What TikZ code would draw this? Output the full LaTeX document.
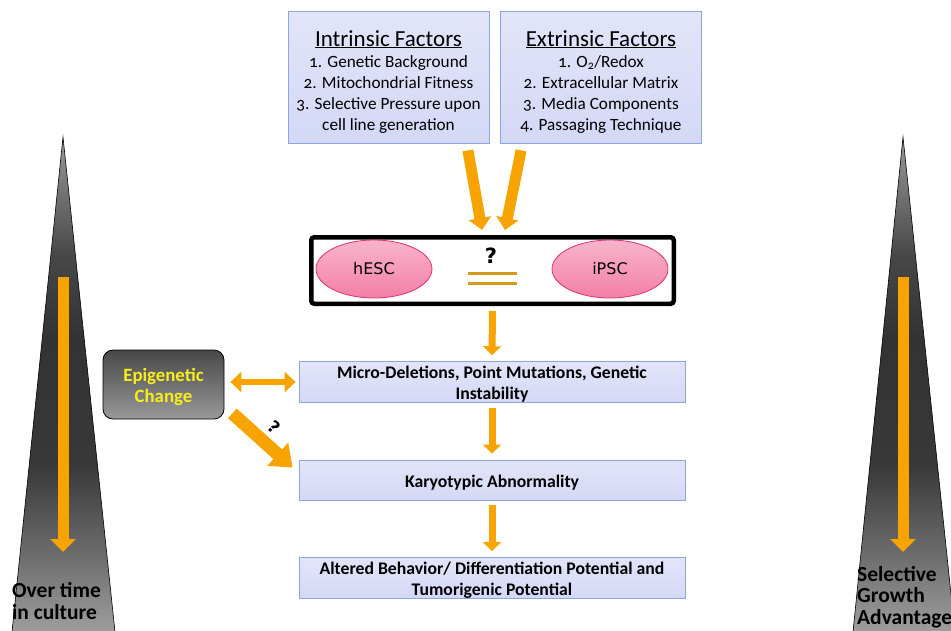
\documentclass[tikz,border=0pt]{standalone}
\usepackage{fontspec}
\setmainfont{Carlito}[Numbers=OldStyle]
\newfontfamily\cellfont{DejaVu Sans}
\usetikzlibrary{shapes.geometric,arrows.meta}
\definecolor{boxedge}{HTML}{8EA5DE}
\definecolor{boxlight}{HTML}{E2E5F9}
\definecolor{boxmid}{HTML}{B9C1ED}
\definecolor{boxlow}{HTML}{D3D8F5}
\definecolor{arroworange}{HTML}{F8A400}
\definecolor{eqgold}{HTML}{D39A1A}
\definecolor{celltop}{HTML}{F8B4CB}
\definecolor{cellbottom}{HTML}{F47FA6}
\definecolor{celledge}{HTML}{E0307A}
\definecolor{epiyellow}{HTML}{F8EC1C}
\pgfdeclareverticalshading{wedgeshade}{100bp}{color(0bp)=(black!38); color(25bp)=(black!38);
    color(33bp)=(black!58); color(42bp)=(black!78); color(55bp)=(black!80); color(63bp)=(black!72);
    color(75bp)=(black!40); color(100bp)=(black!40)}
\newcommand{\titlefont}{\fontsize{23}{26}\selectfont}
\newcommand{\listfont}{\fontsize{17.2}{21}\selectfont}
\newcommand{\stepfont}{\bfseries\fontsize{17.7}{21}\selectfont}
\newcommand{\sidefont}{\bfseries\fontsize{21.5}{21.5}\selectfont}
\newcommand{\topstrut}[1]{\rule{0pt}{#1}}

\begin{document}
\begin{tikzpicture}[x=1pt,y=-1pt,every node/.style={inner sep=0},
    factorbox/.style={draw=boxedge,line width=0.8pt,top color=boxlight,middle color=boxmid,bottom color=boxlow,
        minimum width=201pt,minimum height=132pt,align=center,font=\listfont},
    stepbox/.style={draw=boxedge,line width=0.8pt,top color=boxlight,middle color=boxmid,bottom color=boxlow,
        minimum width=386pt,minimum height=40pt,align=center,font=\stepfont},
    cellnode/.style={ellipse,draw=celledge,line width=0.8pt,top color=celltop,bottom color=cellbottom,
        minimum width=116pt,minimum height=58pt,font=\cellfont\fontsize{16}{18}\selectfont},
    flow/.style={draw=arroworange,line width=7pt,shorten <=5pt,shorten >=6pt,
        -{Triangle[length=9pt,width=18pt,fill=arroworange]}},
    inflow/.style={draw=arroworange,line width=11pt,
        -{Triangle[length=12pt,width=22pt,fill=arroworange]}},
    bigflow/.style={draw=arroworange,line width=13pt,
        -{Triangle[length=20pt,width=30pt,fill=arroworange]}},
    sideflow/.style={draw=arroworange,line width=11pt,
        -{Triangle[length=13pt,width=25pt,fill=arroworange]}},
    twoflow/.style={draw=arroworange,line width=6pt,shorten <=6pt,shorten >=3pt,
        {Triangle[length=11pt,width=20pt,fill=arroworange]}-{Triangle[length=11pt,width=20pt,fill=arroworange]}},
    eqline/.style={draw=eqgold,line width=3pt},
    wedge/.style={shading=wedgeshade,draw=black,line width=0.6pt},
    sidetext/.style={align=left,font=\sidefont}]
    \useasboundingbox (0,0) rectangle (951,630);
    \clip (0,0) rectangle (951,630);
    
    % side wedges
    \draw[wedge] (63,137) -- (115,632) -- (12,632) -- cycle;
    \draw[wedge] (903,137) -- (955,632) -- (853,632) -- cycle;
    \coordinate (ltop) at (63,277);
    \coordinate (lbot) at (63,552);
    \coordinate (rtop) at (903,277);
    \coordinate (rbot) at (903,552);
    \draw[sideflow] (ltop) -- (lbot);
    \draw[sideflow] (rtop) -- (rbot);
    \node[sidetext,anchor=west] (ltext) at (12,601) {Over time\\in culture};
    \node[sidetext,anchor=west] (rtext) at (857,597) {Selective\\Growth\\Advantage};
    
    % factors
    \node[factorbox] (intr) at (388.5,77) {{\titlefont\topstrut{25pt}\underline{Intrinsic Factors}}\\1. Genetic Background\\2. Mitochondrial Fitness\\3. Selective Pressure upon\\cell line generation};
    \node[factorbox] (extr) at (601,77) {{\titlefont\topstrut{25pt}\underline{Extrinsic Factors}}\\1. O\textsubscript{2}/Redox\\2. Extracellular Matrix\\3. Media Components\\4. Passaging Technique};
    
    % hESC vs iPSC
    \node[draw,line width=4.5pt,rounded corners=3pt,minimum width=362.5pt,minimum height=66.5pt] (cmp) at (492.5,270.5) {};
    \node[cellnode] (hesc) at (374,269) {hESC};
    \node[cellnode] (ipsc) at (610,269) {iPSC};
    \node[font=\cellfont\bfseries\fontsize{21}{24}\selectfont] (qmark) at (491,256) {?};
    \draw[eqline] (468,273) -- (517,273);
    \draw[eqline] (468,283) -- (517,283);
    
    \draw[inflow] ([shift={(-21.5,7)}]intr.south east) -- ([shift={(-10.5,-5)}]cmp.north);
    \draw[inflow] ([shift={(21,7)}]extr.south west) -- ([shift={(12.5,-5)}]cmp.north);
    
    % steps
    \node[stepbox] (micro) at (492,382) {\topstrut{17pt}Micro-Deletions, Point Mutations, Genetic\\Instability};
    \node[stepbox] (karyo) at (492,480) {\topstrut{17pt}Karyotypic Abnormality};
    \node[stepbox] (alter) at (492,578) {\topstrut{17pt}Altered Behavior/ Differentiation Potential and\\Tumorigenic Potential};
    \draw[flow] (cmp.south) -- (micro.north);
    \draw[flow] (micro.south) -- (karyo.north);
    \draw[flow] (karyo.south) -- (alter.north);
    
    % epigenetics
    \node[draw=black,line width=0.8pt,rounded corners=10pt,top color=black!72,middle color=black!88,bottom color=black!40,
        minimum width=121pt,minimum height=69pt,align=center,text=epiyellow,font=\bfseries\fontsize{18.8}{21}\selectfont]
        (epi) at (163.5,384.5) {\topstrut{18pt}Epigenetic\\Change};
    \draw[twoflow] (epi.east |- micro.west) -- (micro.west);
    \draw[bigflow] ([shift={(8,-6)}]epi.south east) -- ([shift={(-6,8)}]karyo.north west)
        node[pos=0.5,sloped,above=5pt,font=\cellfont\bfseries\fontsize{17}{18}\selectfont] (emark) {?};
\end{tikzpicture}
\end{document}
